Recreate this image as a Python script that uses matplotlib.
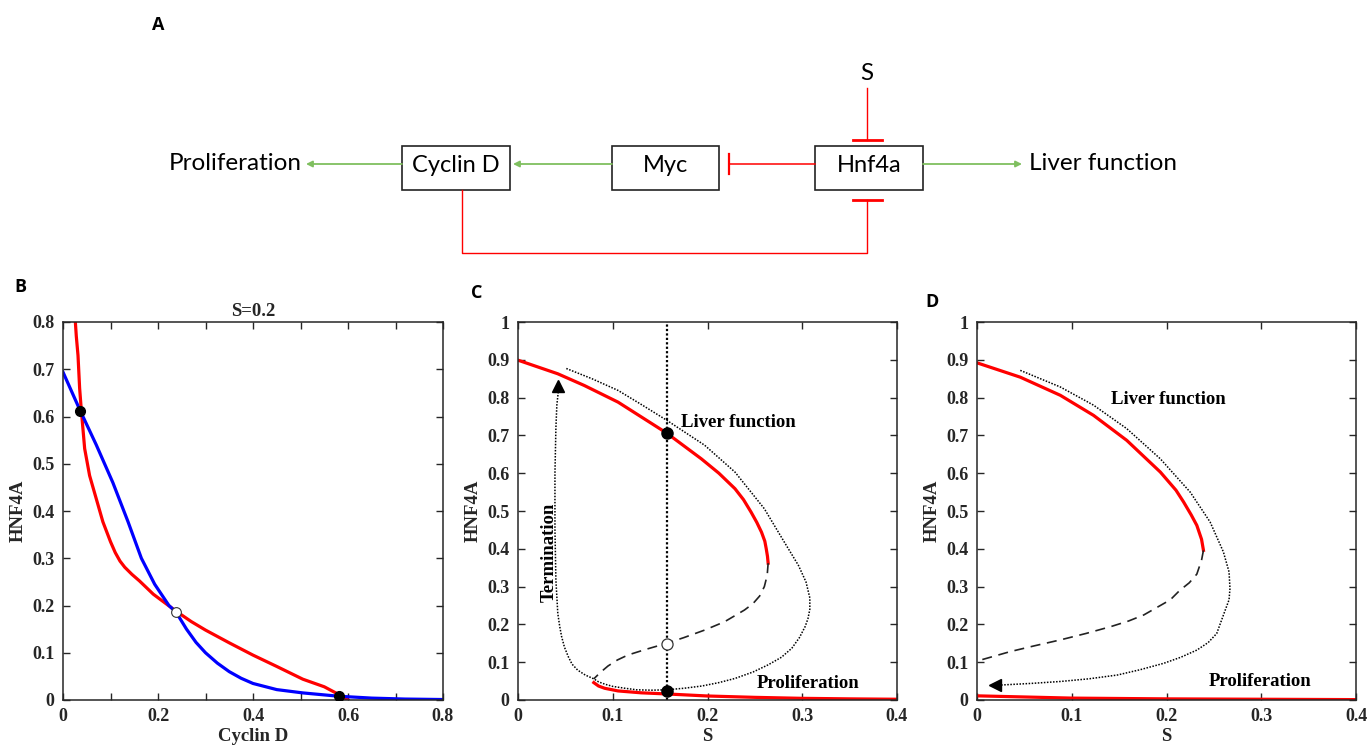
import numpy as np
import matplotlib
matplotlib.use("Agg")
import matplotlib.pyplot as plt
from matplotlib.patches import Rectangle
from matplotlib.ticker import MultipleLocator, FuncFormatter

W, H = 1369, 749
SERIF = "Liberation Serif"
DIAG_FONT = "Lato"

# ---- panel B: nullclines at S=0.2 ----
b_red_x = [0.026, 0.028, 0.0316, 0.035, 0.0386, 0.0456, 0.056, 0.070, 0.084, 0.100, 0.110,
           0.120, 0.130, 0.145, 0.161, 0.190, 0.218, 0.238, 0.27, 0.30, 0.35, 0.40, 0.45,
           0.505, 0.55, 0.58, 0.60]
b_red_y = [0.80, 0.77, 0.729, 0.66, 0.613, 0.532, 0.475, 0.426, 0.377, 0.335, 0.312,
           0.294, 0.281, 0.266, 0.252, 0.224, 0.203, 0.188, 0.166, 0.148, 0.121, 0.095, 0.071,
           0.044, 0.028, 0.012, 0.0]
b_blue_x = [0.0, 0.035, 0.070, 0.105, 0.137, 0.165, 0.193, 0.223, 0.238, 0.26, 0.28,
            0.30, 0.325, 0.35, 0.375, 0.40, 0.45, 0.505, 0.58, 0.65, 0.72, 0.80]
b_blue_y = [0.694, 0.615, 0.540, 0.460, 0.377, 0.30, 0.245, 0.20, 0.186, 0.15, 0.122,
            0.10, 0.078, 0.06, 0.046, 0.035, 0.022, 0.015, 0.008, 0.004, 0.002, 0.001]
b_stable = ([0.035, 0.58], [0.612, 0.008])
b_unstable = ([0.238], [0.186])

# ---- panel C: bifurcation diagram ----
c_up_x = [0.0, 0.042, 0.070, 0.1056, 0.157, 0.1935, 0.212, 0.229, 0.238, 0.246, 0.252,
          0.257, 0.2605, 0.262, 0.2633, 0.264]
c_up_y = [0.899, 0.863, 0.832, 0.788, 0.706, 0.638, 0.600, 0.559, 0.530, 0.497, 0.470,
          0.444, 0.420, 0.400, 0.380, 0.362]
c_mid_x = [0.264, 0.263, 0.260, 0.255, 0.248, 0.239, 0.218, 0.197, 0.175, 0.157, 0.135,
           0.116, 0.105, 0.095, 0.087, 0.080]
c_mid_y = [0.362, 0.33, 0.30, 0.275, 0.255, 0.238, 0.207, 0.185, 0.165, 0.150, 0.134,
           0.119, 0.106, 0.090, 0.073, 0.056]
c_low_x = [0.080, 0.085, 0.0915, 0.1056, 0.13, 0.157, 0.20, 0.25, 0.30, 0.35, 0.40]
c_low_y = [0.046, 0.037, 0.031, 0.024, 0.019, 0.016, 0.0106, 0.007, 0.0044, 0.003, 0.002]
c_traj_x = [0.051, 0.078, 0.1056, 0.130, 0.157, 0.197, 0.229, 0.260, 0.281, 0.296, 0.304,
            0.308, 0.308, 0.306, 0.303, 0.297, 0.289, 0.278, 0.264, 0.248, 0.229, 0.212,
            0.194, 0.175, 0.157, 0.141, 0.125, 0.113, 0.100, 0.0915, 0.085, 0.080, 0.071,
            0.063, 0.057, 0.053, 0.049, 0.046, 0.044, 0.042, 0.040, 0.039, 0.039, 0.040,
            0.041, 0.0425]
c_traj_y = [0.877, 0.850, 0.819, 0.782, 0.740, 0.674, 0.603, 0.506, 0.418, 0.356, 0.312,
            0.27, 0.24, 0.215, 0.194, 0.165, 0.137, 0.113, 0.093, 0.074, 0.057, 0.046,
            0.037, 0.031, 0.027, 0.026, 0.027, 0.031, 0.036, 0.042, 0.048, 0.056, 0.066,
            0.079, 0.095, 0.115, 0.140, 0.168, 0.195, 0.229, 0.317, 0.45, 0.60, 0.72,
            0.78, 0.815]
c_s_line = 0.157
c_stable = ([0.157, 0.157], [0.706, 0.025])
c_unstable = ([0.157], [0.148])

# ---- panel D: bifurcation diagram (shifted) ----
d_up_x = [0.0, 0.0457, 0.088, 0.123, 0.158, 0.1935, 0.210, 0.218, 0.226, 0.232, 0.237, 0.239]
d_up_y = [0.892, 0.854, 0.806, 0.753, 0.687, 0.603, 0.555, 0.524, 0.490, 0.462, 0.425, 0.396]
d_mid_x = [0.239, 0.237, 0.232, 0.224, 0.214, 0.204, 0.190, 0.176, 0.160, 0.141, 0.115,
           0.088, 0.060, 0.035, 0.0]
d_mid_y = [0.396, 0.37, 0.333, 0.31, 0.29, 0.265, 0.245, 0.225, 0.209, 0.194, 0.176,
           0.159, 0.143, 0.128, 0.103]
d_low_x = [0.0, 0.05, 0.10, 0.20, 0.30, 0.40]
d_low_y = [0.011, 0.008, 0.005, 0.003, 0.002, 0.001]
d_traj_x = [0.0457, 0.088, 0.123, 0.158, 0.1935, 0.225, 0.246, 0.260, 0.266, 0.267, 0.266,
            0.262, 0.253, 0.244, 0.232, 0.215, 0.197, 0.172, 0.148, 0.118, 0.088, 0.058,
            0.028, 0.022]
d_traj_y = [0.872, 0.828, 0.780, 0.718, 0.638, 0.550, 0.471, 0.392, 0.339, 0.295, 0.265,
            0.238, 0.176, 0.152, 0.132, 0.113, 0.097, 0.080, 0.066, 0.056, 0.049, 0.044,
            0.040, 0.039]

fig = plt.figure(figsize=(W / 100, H / 100), dpi=100)


def px_axes(left, top, right, bottom):
    return fig.add_axes([left / W, 1 - bottom / H, (right - left) / W, (bottom - top) / H])


def style_axes(ax, xlim, ylim, xmaj, xmin):
    ax.set_xlim(*xlim)
    ax.set_ylim(*ylim)
    ax.xaxis.set_major_locator(MultipleLocator(xmaj))
    ax.xaxis.set_minor_locator(MultipleLocator(xmin))
    ax.yaxis.set_major_locator(MultipleLocator(0.1))
    fmt = FuncFormatter(lambda v, p: f"{round(v, 2):g}")
    ax.xaxis.set_major_formatter(fmt)
    ax.yaxis.set_major_formatter(fmt)
    ax.tick_params(which="both", direction="in", top=True, right=True, length=5,
                   width=1, color="#262626", labelsize=13, pad=6)
    for lab in ax.get_xticklabels() + ax.get_yticklabels():
        lab.set_fontfamily(SERIF)
        lab.set_fontweight("bold")
        lab.set_color("#262626")
    for sp in ax.spines.values():
        sp.set_color("#262626")
        sp.set_linewidth(1.1)


lab_kw = dict(fontfamily=SERIF, fontweight="bold", fontsize=13.5, color="#262626")
ann_kw = dict(fontfamily=SERIF, fontweight="bold", fontsize=13.5, color="black")
red = "#ff0000"
dot_ls = (0, (1, 1))

# ---- panel A: network diagram in pixel coordinates ----
dg = fig.add_axes([0, 0, 1, 1])
dg.set_xlim(0, W)
dg.set_ylim(H, 0)
dg.axis("off")
dg.set_zorder(-1)

boxes = {"Cyclin D": (402, 510), "Myc": (612, 719), "Hnf4a": (815, 923)}
box_top, box_bot, y_mid = 146, 190, 164
for name, (x0, x1) in boxes.items():
    dg.add_patch(Rectangle((x0, box_top), x1 - x0, box_bot - box_top, fill=False,
                           edgecolor="#222222", lw=1.2))
    dg.text((x0 + x1) / 2, y_mid + 1, name, ha="center", va="center",
            fontsize=17, fontfamily=DIAG_FONT, color="black")

green = "#7fbf5f"
arrow_kw = dict(arrowstyle="-|>", color=green, lw=1.3, mutation_scale=9, shrinkA=0, shrinkB=0)
dg.annotate("", xy=(306, y_mid), xytext=(402, y_mid), arrowprops=arrow_kw)
dg.annotate("", xy=(513, y_mid), xytext=(612, y_mid), arrowprops=arrow_kw)
dg.annotate("", xy=(1022, y_mid), xytext=(923, y_mid), arrowprops=arrow_kw)
dg.text(302, y_mid, "Proliferation", ha="right", va="center", fontsize=17.5, fontfamily=DIAG_FONT)
dg.text(1029, y_mid, "Liver function", ha="left", va="center", fontsize=17.5, fontfamily=DIAG_FONT)
dg.text(867, 73, "S", ha="center", va="center", fontsize=17.5, fontfamily=DIAG_FONT)

# inhibition edges
dg.plot([815, 729], [y_mid, y_mid], color=red, lw=1.1)
dg.plot([729, 729], [154, 174], color=red, lw=1.6)
dg.plot([867, 867], [88, 140], color=red, lw=1.0)
dg.plot([853, 882], [140, 140], color=red, lw=2.0)
dg.plot([462, 462, 867, 867], [190, 253, 253, 200], color=red, lw=1.0)
dg.plot([853, 882], [200, 200], color=red, lw=2.0)

for letter, (lx, ly) in {"A": (158, 25), "B": (20, 287), "C": (477, 293), "D": (932, 302)}.items():
    fig.text(lx / W, 1 - ly / H, letter, fontsize=13, fontweight="bold", fontfamily="Open Sans",
             ha="center", va="center")

# ---- panel B ----
axB = px_axes(63, 322, 443, 700)
axB.plot(b_red_x, b_red_y, color=red, lw=2.3)
axB.plot(b_blue_x, b_blue_y, color="#0000ff", lw=2.3)
axB.plot(*b_stable, "o", color="black", ms=7, zorder=5, ls="none")
axB.plot(*b_unstable, "o", mfc="white", mec="#333333", ms=7, mew=0.8, zorder=5)
style_axes(axB, (0, 0.8), (0, 0.8), 0.2, 0.1)
axB.set_title("S=0.2", pad=4, **lab_kw)
axB.set_xlabel("Cyclin D", labelpad=2, **lab_kw)
axB.set_ylabel("HNF4A", labelpad=4, **lab_kw)

# ---- panel C ----
axC = px_axes(518, 322, 897, 700)
axC.plot(c_up_x, c_up_y, color=red, lw=2.3)
axC.plot(c_low_x, c_low_y, color=red, lw=2.3)
axC.plot(c_mid_x, c_mid_y, color="#222222", lw=1.2, ls=(0, (6, 4)))
axC.plot(c_traj_x, c_traj_y, color="black", lw=1.1, ls=dot_ls)
axC.plot([c_traj_x[-1]], [0.83], marker="^", color="black", ms=8)
axC.plot([c_s_line, c_s_line], [0, 1], color="black", lw=1.6, ls=dot_ls)
axC.plot(*c_stable, "o", color="black", ms=8, zorder=5, ls="none")
axC.plot(*c_unstable, "o", mfc="white", mec="#333333", ms=8, mew=0.9, zorder=5)
style_axes(axC, (0, 0.4), (0, 1), 0.1, 0.1)
axC.text(0.172, 0.735, "Liver function", ha="left", va="center", **ann_kw)
axC.text(0.252, 0.043, "Proliferation", ha="left", va="center", **ann_kw)
axC.text(0.033, 0.39, "Termination", ha="center", va="center", rotation=90, **ann_kw)
axC.set_xlabel("S", labelpad=2, **lab_kw)
axC.set_ylabel("HNF4A", labelpad=4, **lab_kw)

# ---- panel D ----
axD = px_axes(977, 322, 1356, 700)
axD.plot(d_up_x, d_up_y, color=red, lw=2.3)
axD.plot(d_low_x, d_low_y, color=red, lw=2.3)
axD.plot(d_mid_x, d_mid_y, color="#222222", lw=1.2, ls=(0, (6, 4)))
axD.plot(d_traj_x, d_traj_y, color="black", lw=1.1, ls=dot_ls)
axD.plot([0.019], [d_traj_y[-1]], marker="<", color="black", ms=8)
style_axes(axD, (0, 0.4), (0, 1), 0.1, 0.1)
axD.text(0.141, 0.795, "Liver function", ha="left", va="center", **ann_kw)
axD.text(0.245, 0.05, "Proliferation", ha="left", va="center", **ann_kw)
axD.set_xlabel("S", labelpad=2, **lab_kw)
axD.set_ylabel("HNF4A", labelpad=4, **lab_kw)

fig.savefig("out.png", dpi=100)
